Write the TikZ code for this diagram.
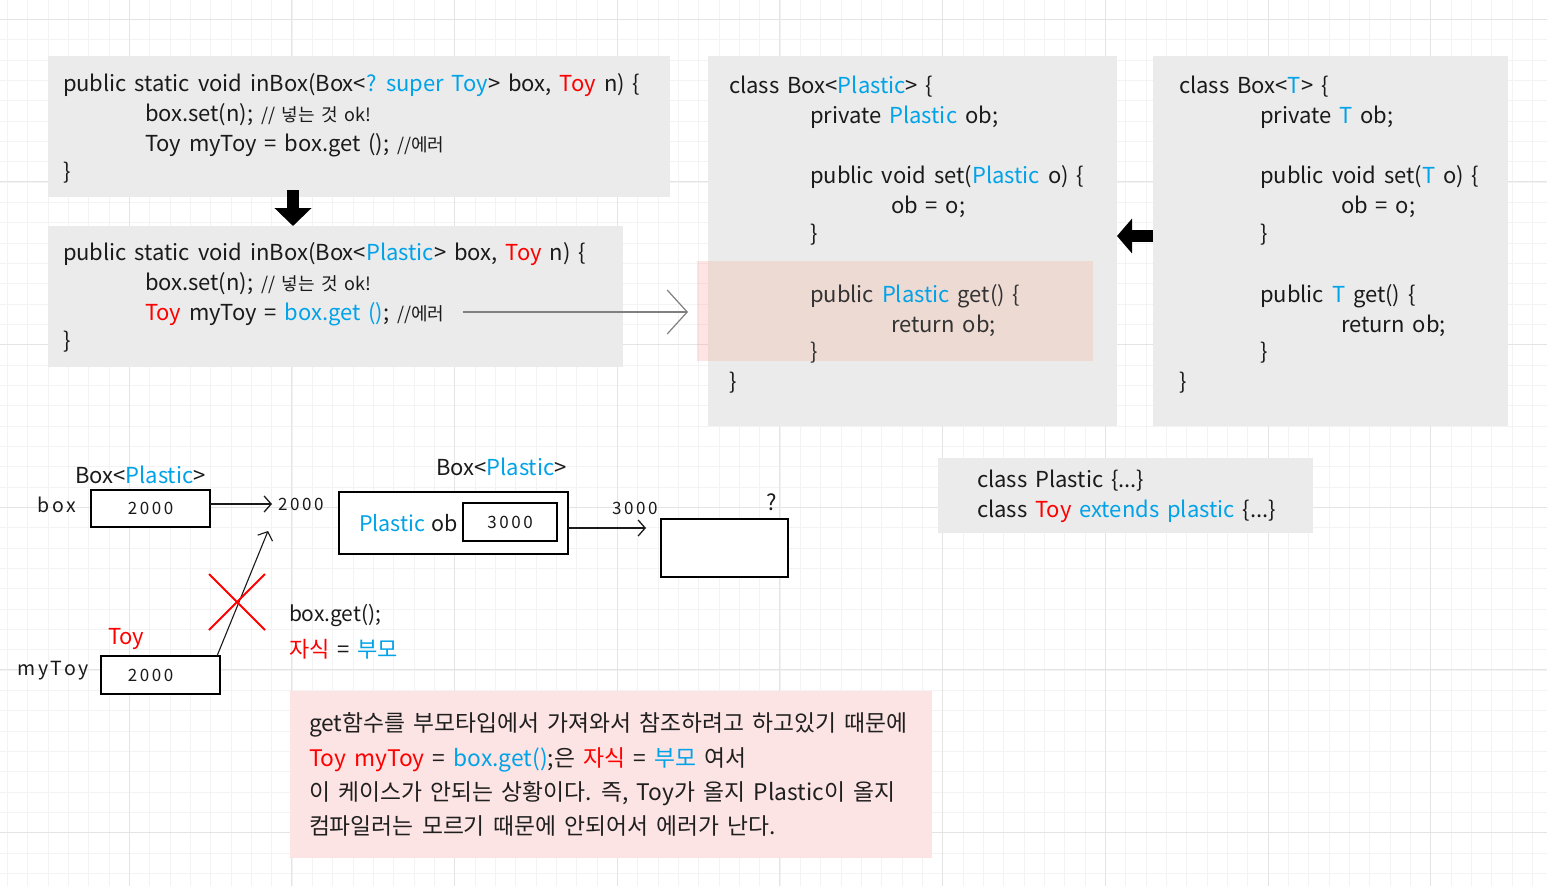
\documentclass[tikz,border=0pt]{standalone}
\usepackage{fontspec}
\setmainfont[WordSpace=1.6]{Noto Sans CJK KR}
\newfontfamily\spc[LetterSpace=15]{Noto Sans CJK KR}
\newfontfamily\spcw[LetterSpace=15]{Noto Sans CJK KR}
\usetikzlibrary{arrows.meta}
\definecolor{gminor}{HTML}{F3F3F3}
\definecolor{gmajor}{HTML}{E4E4E4}
\definecolor{boxgray}{HTML}{EBEBEB}
\definecolor{kblue}{HTML}{00A2E8}
\definecolor{kred}{HTML}{FF0000}
\definecolor{ink}{HTML}{1A1A1A}
\definecolor{pinkfill}{HTML}{FDE4E4}
\definecolor{hlgray}{HTML}{EDDAD3}
\definecolor{hlpink}{HTML}{FF8F8F}
\definecolor{arrgray}{HTML}{808080}
\newcommand\cblue[1]{\textcolor{kblue}{#1}}
\newcommand\cred[1]{\textcolor{kred}{#1}}
\newcommand\cmt{\fontsize{18}{22}\selectfont}
\begin{document}
\begin{tikzpicture}[x=1pt,y=-1pt,
 panel/.style={fill=boxgray,draw=none,inner sep=0pt,outer sep=0pt,anchor=north west},
 ln/.style={anchor=base west,inner sep=0pt,outer sep=0pt,text=ink,font=\fontsize{22}{26}\selectfont},
 note/.style={anchor=base west,inner sep=0pt,outer sep=0pt,text=black!88,font=\fontsize{22.8}{26}\selectfont},
 frame/.style={draw=black,line width=1.6pt,fill=white,inner sep=0pt,outer sep=0pt,anchor=north west},
 num/.style={font=\spc\fontsize{17}{20}\selectfont,text=ink},
 word/.style={font=\spcw\fontsize{19.5}{22}\selectfont,text=ink,anchor=west,inner sep=0pt},
 thin/.style={-{Straight Barb[length=7pt,width=16pt]},line width=1.3pt,draw=ink},
 block/.style={line width=12pt,draw=black,-{Triangle[length=18pt,width=36pt]}},
]
\useasboundingbox (0,0) rectangle (1547,886);
\fill[white] (0,0) rectangle (1547,886);
% grid
\foreach \k in {0,...,75} \draw[gminor,line width=0.8pt] ({7.3+20.333*\k},0) -- ({7.3+20.333*\k},886);
\foreach \k in {0,...,42} \draw[gminor,line width=0.8pt] (0,{19.3+20.333*\k}) -- (1547,{19.3+20.333*\k});
\foreach \k in {0,...,8} \draw[gmajor,line width=1pt] ({129.3+162.67*\k},0) -- ({129.3+162.67*\k},886);
\foreach \k in {0,...,5} \draw[gmajor,line width=1pt] (0,{19.3+162.67*\k}) -- (1547,{19.3+162.67*\k});

% panel 1
\node[panel,minimum width=622pt,minimum height=141pt] (p1) at (48,56) {};
\node[ln] (p1a) at (63,91) {public static void inBox(Box<\cblue{? super Toy}> box, \cred{Toy} n) \{};
\node[ln] (p1b) at (145,121) {box.set(n); {\cmt // 넣는 것 ok!}};
\node[ln] (p1c) at (145,151) {Toy myToy = box.get (); {\cmt //에러}};
\node[ln] (p1d) at (63,179) {\}};

% panel 2
\node[panel,minimum width=575pt,minimum height=141pt] (p2) at (48,226) {};
\node[ln] (p2a) at (63,260) {public static void inBox(Box<\cblue{Plastic}> box, \cred{Toy} n) \{};
\node[ln] (p2b) at (145,290) {box.set(n); {\cmt // 넣는 것 ok!}};
\node[ln] (p2c) at (145,320) {\cred{Toy} myToy = \cblue{box.get ()}; {\cmt //에러}};
\node[ln] (p2d) at (63,348) {\}};

% down arrow
\coordinate (dA) at (293,190);
\coordinate (dB) at (293,226);
\draw[block] (dA) -- (dB);

% panel 3
\node[panel,minimum width=409pt,minimum height=370pt] (p3) at (708,56) {};
\node[fill=hlpink,fill opacity=0.24,draw=none,inner sep=0pt,outer sep=0pt,anchor=north west,minimum width=11pt,minimum height=100pt] (hls) at (697,261) {};
\node[fill=hlgray,draw=none,inner sep=0pt,outer sep=0pt,anchor=north west,minimum width=385pt,minimum height=100pt] (hl) at (708,261) {};
\node[ln] (p3a) at (729,93) {class Box<\cblue{Plastic}> \{};
\node[ln] (p3b) at (810,123) {private \cblue{Plastic} ob;};
\node[ln] (p3c) at (810,183) {public void set(\cblue{Plastic} o) \{};
\node[ln] (p3d) at (891,213) {ob = o;};
\node[ln] (p3e) at (810,241) {\}};
\node[ln,text=black!80] (p3f) at (810,302) {public \cblue{Plastic} get() \{};
\node[ln,text=black!80] (p3g) at (891,332) {return ob;};
\node[ln,text=black!80] (p3h) at (810,359) {\}};
\node[ln] (p3i) at (729,389) {\}};

% gray arrow
\coordinate (gA) at (463,312);
\draw[arrgray,line width=1.2pt,-{Straight Barb[length=20pt,width=44pt]}] (gA) -- (gA -| hls.west) [shorten >=9pt];

% panel 4
\node[panel,minimum width=355pt,minimum height=370pt] (p4) at (1153,56) {};
\node[ln] (p4a) at (1179,93) {class Box<\cblue{T}> \{};
\node[ln] (p4b) at (1260,123) {private \cblue{T} ob;};
\node[ln] (p4c) at (1260,183) {public void set(\cblue{T} o) \{};
\node[ln] (p4d) at (1341,213) {ob = o;};
\node[ln] (p4e) at (1260,241) {\}};
\node[ln] (p4f) at (1260,302) {public \cblue{T} get() \{};
\node[ln] (p4g) at (1341,332) {return ob;};
\node[ln] (p4h) at (1260,359) {\}};
\node[ln] (p4i) at (1179,389) {\}};

% left arrow
\coordinate (lA) at (1153,236);
\coordinate (lB) at (1117,236);
\draw[line width=12pt,draw=black,-{Triangle[length=15pt,width=34pt]}] (lA) -- (lB);

% panel 5
\node[panel,minimum width=375pt,minimum height=75pt] (p5) at (938,458) {};
\node[ln] (p5a) at (977,487) {class Plastic \{...\}};
\node[ln] (p5b) at (977,517) {class \cred{Toy} \cblue{extends plastic} \{...\}};

% bottom diagram
\node[ln] (lbl1) at (75,483) {Box<\cblue{Plastic}>};
\node[word] (lbox) at (37,505) {box};
\node[frame,num,minimum width=119pt,minimum height=37pt] (b1) at (91,490) {2000};
\node[num,anchor=west,inner sep=0pt] (l2000) at (278,504) {2000};
\draw[thin] (b1.east |- l2000.west) -- (l2000.west) [shorten >=6pt];

\node[ln] (lbl2) at (436,475) {Box<\cblue{Plastic}>};
\node[frame,minimum width=229pt,minimum height=62pt] (big) at (339,492) {};
\node[ln,font=\fontsize{21.5}{26}\selectfont] (pob) at (359,531) {\cblue{Plastic}\hspace{6pt}ob};
\node[frame,num,minimum width=94pt,minimum height=38pt] (b3) at (463,503) {3000};
\node[num,anchor=west,inner sep=0pt] (l3000) at (612,508) {3000};
\node[ln] (qm) at (766,510) {?};
\node[frame,minimum width=127pt,minimum height=58pt] (q) at (661,519) {};
\coordinate (aS) at (568,528);
\draw[thin] (aS) -- (aS -| q.west) [shorten >=15pt];

\node[ln,font=\fontsize{21}{26}\selectfont] (bget) at (289,621) {box.get();};
\node[ln] (jb) at (289,657) {\cred{자식} = \cblue{부모}};
\node[ln,text=kred] (ltoy) at (108,644) {Toy};
\node[word] (lmy) at (17,671) {myToy};
\node[frame,num,minimum width=119pt,minimum height=38pt] (m) at (101,656) {2000\kern20pt\relax};
\coordinate (tipA) at (268,531);
\draw[thin,line width=1.1pt] ([xshift=-3pt]m.north east) -- (tipA);
\coordinate (xa) at (209,574);
\coordinate (xb) at (265,630);
\coordinate (xc) at (265,574);
\coordinate (xd) at (209,630);
\draw[kred,line width=2pt] (xa) -- (xb);
\draw[kred,line width=2pt] (xc) -- (xd);

% pink note
\node[fill=pinkfill,draw=none,inner sep=0pt,outer sep=0pt,anchor=north west,minimum width=642pt,minimum height=167pt] (notebox) at (290,691) {};
\node[note] (n1) at (309,731) {get함수를 부모타입에서 가져와서 참조하려고 하고있기 때문에};
\node[note] (n2) at (309,766) {\cred{Toy myToy} = \cblue{box.get()};은 \cred{자식} = \cblue{부모} 여서};
\node[note] (n3) at (309,800) {이 케이스가 안되는 상황이다. 즉, Toy가 올지 Plastic이 올지};
\node[note] (n4) at (309,834) {컴파일러는 모르기 때문에 안되어서 에러가 난다.};
\end{tikzpicture}
\end{document}
